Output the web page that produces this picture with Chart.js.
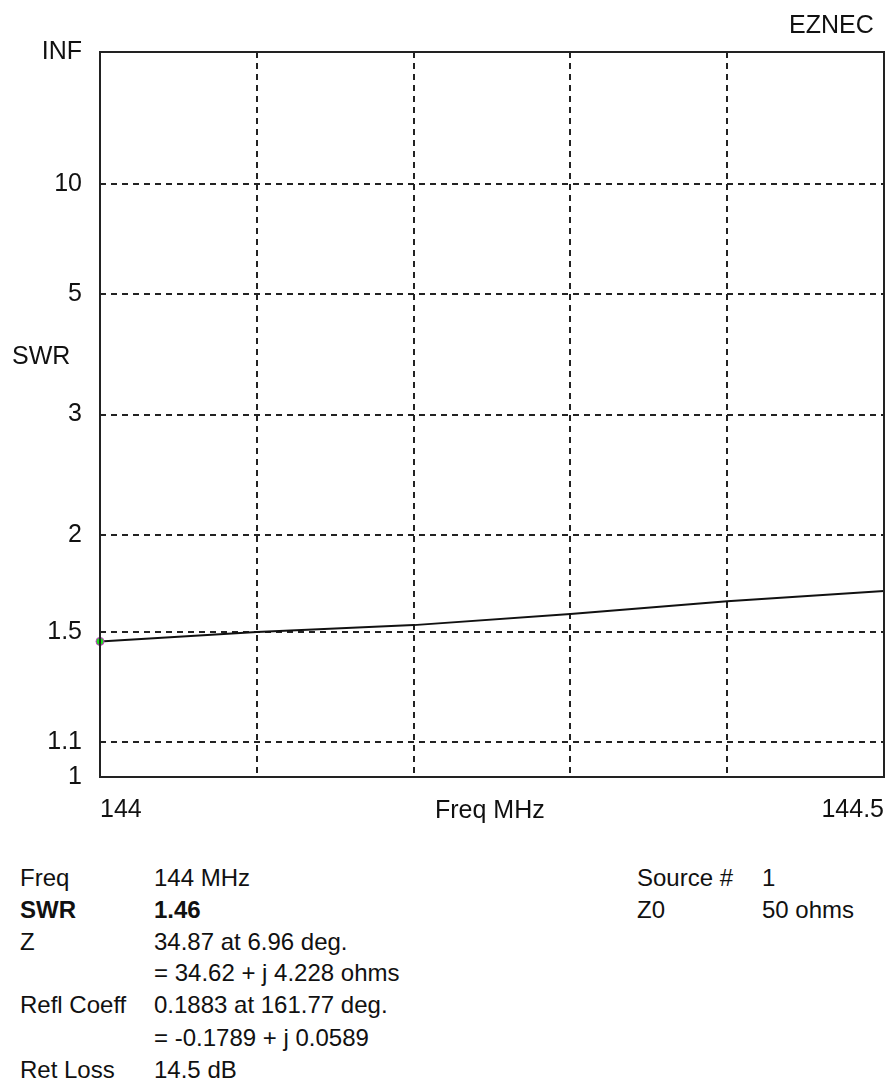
<!DOCTYPE html>
<html>
<head>
<meta charset="utf-8">
<script src="https://cdn.jsdelivr.net/npm/chart.js@4/dist/chart.umd.min.js"></script>
<style>
    body { margin: 0; background: #fff; font-family: "Liberation Sans", Arial, sans-serif; color: #111; }
    #wrap { position: relative; width: 889px; height: 1080px; }
    #chartBox { position: absolute; left: 0; top: 0; width: 889px; height: 840px; }
    .lbl { position: absolute; font-size: 24px; line-height: 28px; white-space: nowrap; }
    .big { font-size: 25px; }
    b { font-weight: bold; }
</style>
</head>
<body>
<div id="wrap">
    <div id="chartBox"><canvas id="swrChart"></canvas></div>

    <div class="lbl big" style="left:789px; top:10px;">EZNEC</div>
    <div class="lbl big" style="left:12px; top:341px;">SWR</div>
    <div class="lbl big" style="left:435px; top:795px;">Freq MHz</div>

    <!-- readout panel -->
    <div class="lbl" style="left:20px; top:864px;">Freq</div>
    <div class="lbl" style="left:154px; top:864px;">144 MHz</div>
    <div class="lbl" style="left:20px; top:896px;"><b>SWR</b></div>
    <div class="lbl" style="left:154px; top:896px;"><b>1.46</b></div>
    <div class="lbl" style="left:20px; top:928px;">Z</div>
    <div class="lbl" style="left:154px; top:928px;">34.87 at 6.96 deg.</div>
    <div class="lbl" style="left:154px; top:959px;">= 34.62 + j 4.228 ohms</div>
    <div class="lbl" style="left:20px; top:991px;">Refl Coeff</div>
    <div class="lbl" style="left:154px; top:991px;">0.1883 at 161.77 deg.</div>
    <div class="lbl" style="left:154px; top:1024px;">= -0.1789 + j 0.0589</div>
    <div class="lbl" style="left:20px; top:1056px;">Ret Loss</div>
    <div class="lbl" style="left:154px; top:1056px;">14.5 dB</div>

    <div class="lbl" style="left:637px; top:864px;">Source #</div>
    <div class="lbl" style="left:762px; top:864px;">1</div>
    <div class="lbl" style="left:637px; top:896px;">Z0</div>
    <div class="lbl" style="left:762px; top:896px;">50 ohms</div>
</div>

<script>
// ===== DATA =====
const freqMHz = [144.0, 144.1, 144.2, 144.3, 144.4, 144.5];
const swrValues = [1.46, 1.50, 1.53, 1.58, 1.64, 1.69];

const freqTicks = [144.0, 144.1, 144.2, 144.3, 144.4, 144.5];
const freqTickLabels = ["144", "", "", "", "", "144.5"];

const swrTicks = [1, 1.1, 1.5, 2, 3, 5, 10, Infinity];
const swrTickLabels = ["1", "1.1", "1.5", "2", "3", "5", "10", "INF"];

// EZNEC plots SWR on a reflection coefficient scale
function toRho(swr) {
    if (swr === Infinity) return 1;
    return (swr - 1) / (swr + 1);
}

// solid frame round the plot
const framePlugin = {
    id: "frame",
    afterDatasetsDraw(chart) {
        const a = chart.chartArea;
        const ctx = chart.ctx;
        ctx.save();
        ctx.strokeStyle = "#222";
        ctx.lineWidth = 2;
        ctx.setLineDash([]);
        ctx.strokeRect(a.left, a.top, a.right - a.left, a.bottom - a.top);
        ctx.restore();
    }
};

const ctx = document.getElementById("swrChart").getContext("2d");

new Chart(ctx, {
    type: "line",
    data: {
        datasets: [{
            data: freqMHz.map((f, i) => ({ x: f, y: toRho(swrValues[i]) })),
            borderColor: "#111",
            borderWidth: 2,
            tension: 0,
            fill: false,
            clip: false,
            pointRadius: c => c.dataIndex === 0 ? 4 : 0,
            pointBackgroundColor: "#22dd22",
            pointBorderColor: "#cc33cc",
            pointBorderWidth: 1
        }]
    },
    options: {
        responsive: true,
        maintainAspectRatio: false,
        animation: false,
        events: [],
        layout: { padding: { top: 52, right: 1, left: 0, bottom: 0 } },
        plugins: {
            legend: { display: false },
            tooltip: { enabled: false }
        },
        scales: {
            x: {
                type: "linear",
                min: 144.0,
                max: 144.5,
                afterBuildTicks: s => { s.ticks = freqTicks.map(v => ({ value: v })); },
                afterFit: s => { s.height = 63; s.paddingLeft = 0; s.paddingRight = 0; },
                ticks: {
                    autoSkip: false,
                    maxRotation: 0,
                    align: "inner",
                    padding: 18,
                    color: "#111",
                    font: { family: "Liberation Sans", size: 25 },
                    callback: (v, i) => freqTickLabels[i]
                },
                grid: { color: "#222", lineWidth: 2, drawTicks: false },
                border: { display: false, dash: [6, 5] }
            },
            y: {
                type: "linear",
                min: 0,
                max: 1,
                afterBuildTicks: s => { s.ticks = swrTicks.map(v => ({ value: toRho(v) })); },
                afterFit: s => { s.width = 100; s.paddingTop = 0; s.paddingBottom = 0; },
                ticks: {
                    autoSkip: false,
                    padding: 18,
                    color: "#111",
                    font: { family: "Liberation Sans", size: 25 },
                    callback: (v, i) => swrTickLabels[i]
                },
                grid: { color: "#222", lineWidth: 2, drawTicks: false },
                border: { display: false, dash: [6, 5] }
            }
        }
    },
    plugins: [framePlugin]
});
</script>
</body>
</html>
